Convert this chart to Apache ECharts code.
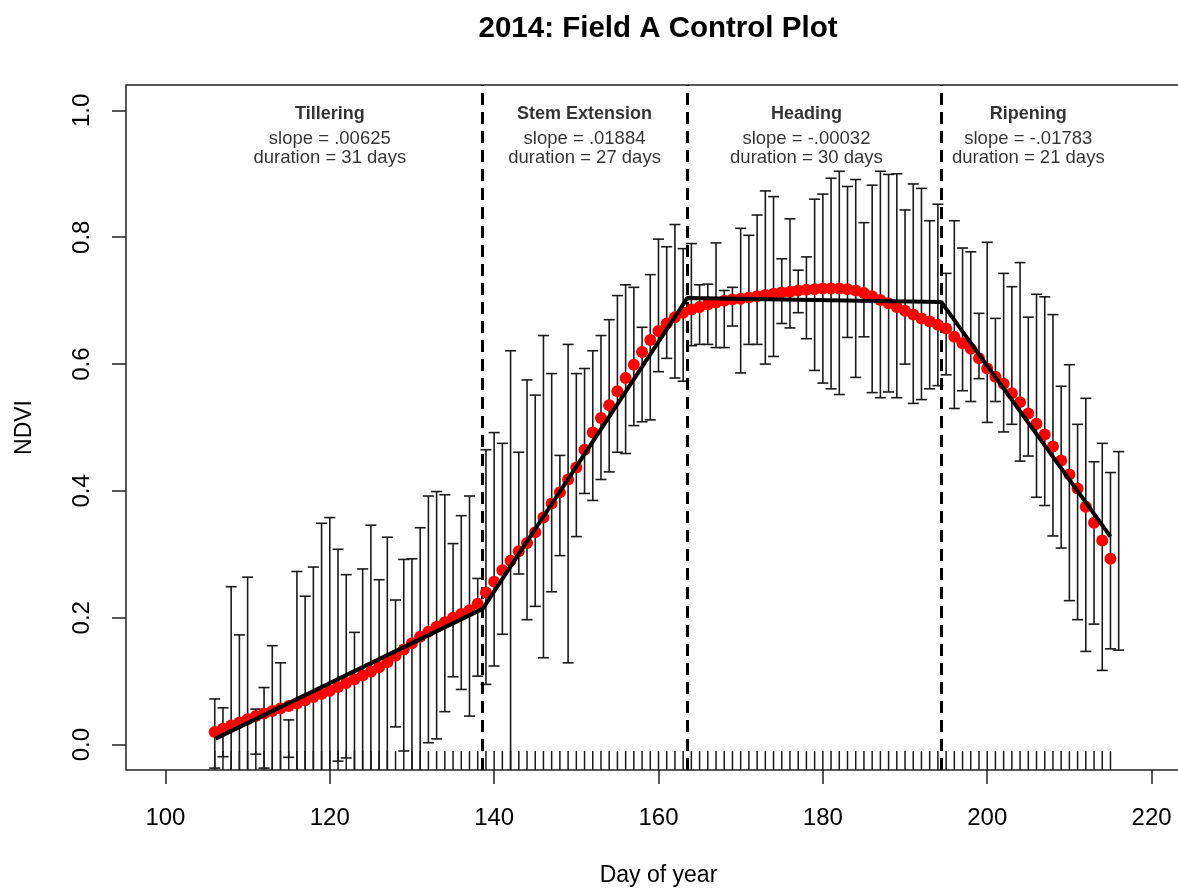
<!DOCTYPE html>
<html>
<head>
<meta charset="utf-8">
<script src="https://cdn.jsdelivr.net/npm/echarts@6/dist/echarts.min.js"></script>
<style>
html,body{margin:0;padding:0;background:#fff;overflow:hidden;width:1178px;height:888px;}
#chart{width:1200px;height:888px;}
</style>
</head>
<body>
<div id="chart"></div>
<script>
// ---------------- DATA ----------------
const titleText = "2014: Field A Control Plot";
const xLabel = "Day of year";
const yLabel = "NDVI";
const xTicks = [100, 120, 140, 160, 180, 200, 220];
const yTicks = [0, 0.2, 0.4, 0.6, 0.8, 1.0];

// smoothed NDVI (red points), one per day
const days = [106,107,108,109,110,111,112,113,114,115,116,117,118,119,120,121,122,123,124,125,126,127,128,129,130,
  131,132,133,134,135,136,137,138,139,140,141,142,143,144,145,146,147,148,149,150,151,152,153,154,155,
  156,157,158,159,160,161,162,163,164,165,166,167,168,169,170,171,172,173,174,175,176,177,178,179,180,
  181,182,183,184,185,186,187,188,189,190,191,192,193,194,195,196,197,198,199,200,201,202,203,204,205,
  206,207,208,209,210,211,212,213,214,215];
const ndvi = [0.020,0.025,0.030,0.035,0.040,0.045,0.049,0.053,0.057,0.061,0.065,0.070,0.075,0.080,0.085,0.091,0.097,0.103,0.109,0.115,0.122,0.130,0.140,0.150,0.160,
  0.170,0.178,0.186,0.193,0.200,0.206,0.212,0.222,0.240,0.257,0.275,0.290,0.305,0.318,0.335,0.358,0.380,0.398,0.418,0.437,0.465,0.492,0.515,0.535,0.557,
  0.578,0.599,0.619,0.638,0.652,0.664,0.674,0.681,0.686,0.690,0.694,0.697,0.700,0.702,0.703,0.705,0.707,0.709,0.711,0.713,0.714,0.716,0.717,0.718,0.719,
  0.719,0.719,0.718,0.716,0.712,0.707,0.701,0.696,0.690,0.684,0.678,0.672,0.667,0.662,0.656,0.643,0.633,0.624,0.609,0.593,0.580,0.569,0.554,0.540,0.522,
  0.506,0.489,0.470,0.448,0.426,0.404,0.375,0.350,0.322,0.293];

// error bars (upper / lower ends), one per day
const errDays = [106,107,108,109,110,111,112,113,114,115,116,117,118,119,120,121,122,123,124,125,126,127,128,129,130,
  131,132,133,134,135,136,137,138,139,140,141,142,143,144,145,146,147,148,149,150,151,152,153,154,155,
  156,157,158,159,160,161,162,163,164,165,166,167,168,169,170,171,172,173,174,175,176,177,178,179,180,
  181,182,183,184,185,186,187,188,189,190,191,192,193,194,195,196,197,198,199,200,201,202,203,204,205,
  206,207,208,209,210,211,212,213,214,215,216];
const errHigh = [0.072,0.058,0.249,0.173,0.264,0.056,0.090,0.156,0.129,0.039,0.273,0.234,0.280,0.349,0.358,0.308,0.268,0.177,0.277,0.346,0.260,0.327,0.228,0.292,0.293,
  0.342,0.392,0.399,0.394,0.317,0.361,0.392,0.262,0.465,0.492,0.475,0.621,0.461,0.575,0.551,0.645,0.585,0.456,0.631,0.585,0.593,0.621,0.645,0.670,0.708,
  0.725,0.721,0.658,0.741,0.797,0.785,0.820,0.782,0.790,0.725,0.726,0.791,0.716,0.721,0.814,0.803,0.835,0.873,0.864,0.766,0.829,0.748,0.769,0.860,0.868,
  0.893,0.904,0.880,0.891,0.823,0.882,0.904,0.899,0.900,0.843,0.884,0.877,0.826,0.852,0.743,0.826,0.783,0.777,0.680,0.792,0.672,0.743,0.722,0.760,0.674,
  0.710,0.706,0.678,0.565,0.599,0.505,0.546,0.446,0.475,0.429,0.462];
const errLow = [-0.037,-0.019,-0.06,-0.06,-0.06,-0.015,-0.037,-0.06,-0.06,-0.020,-0.06,-0.06,-0.06,-0.06,-0.06,-0.026,-0.021,-0.06,-0.06,-0.06,-0.06,-0.06,0.028,-0.010,-0.06,
  -0.06,0.003,0.009,0.052,0.107,0.087,0.045,0.108,0.095,0.124,0.174,-0.06,0.269,0.197,0.218,0.137,0.241,0.298,0.129,0.328,0.396,0.385,0.418,0.430,0.461,
  0.459,0.503,0.509,0.512,0.588,0.609,0.578,0.573,0.629,0.631,0.631,0.626,0.626,0.660,0.586,0.631,0.631,0.600,0.612,0.664,0.657,0.681,0.640,0.590,0.570,
  0.561,0.552,0.642,0.579,0.643,0.555,0.547,0.556,0.547,0.600,0.538,0.544,0.561,0.566,0.583,0.530,0.558,0.541,0.577,0.508,0.541,0.493,0.505,0.447,0.455,
  0.390,0.377,0.329,0.310,0.227,0.197,0.147,0.190,0.117,0.151,0.149];

// piecewise linear fit (black line) breakpoints
const fitDays = [106.1, 138.6, 163.5, 194.4, 215];
const fitNdvi = [0.0095, 0.214, 0.704, 0.698, 0.328];

// phase boundaries (dashed lines)
const breaks = [138.6, 163.5, 194.4];

// phase annotations
const phaseNames = ["Tillering", "Stem Extension", "Heading", "Ripening"];
const phaseSlopes = [".00625", ".01884", "-.00032", "-.01783"];
const phaseDurations = [31, 27, 30, 21];
const phaseX = [120, 151, 178, 205];
const phaseNameY = 0.994;
const phaseStatY = 0.94;

// ---------------- CHART ----------------
const FONT = "'Liberation Sans', Arial, sans-serif";
const chart = echarts.init(document.getElementById('chart'), null, {renderer: 'canvas'});

function renderErr(params, api) {
  const x = api.value(0), hi = api.value(1), lo = api.value(2);
  const t = api.coord([x, hi]);
  const b = api.coord([x, lo]);
  const cs = params.coordSys;
  const yMax = cs.y + cs.height;
  const by = Math.min(b[1], yMax);
  const hw = 5.5;
  const st = {stroke: '#1a1a1a', lineWidth: 1.6};
  const children = [
    {type: 'line', shape: {x1: t[0], y1: t[1], x2: t[0], y2: by}, style: st},
    {type: 'line', shape: {x1: t[0] - hw, y1: t[1], x2: t[0] + hw, y2: t[1]}, style: st}
  ];
  if (b[1] <= yMax) children.push({type: 'line', shape: {x1: b[0] - hw, y1: b[1], x2: b[0] + hw, y2: b[1]}, style: st});
  return {type: 'group', children};
}

function renderRug(params, api) {
  const x = api.value(0);
  const p = api.coord([x, 0]);
  const cs = params.coordSys;
  const yMax = cs.y + cs.height;
  return {type: 'line', shape: {x1: p[0], y1: yMax, x2: p[0], y2: yMax - 19}, style: {stroke: '#1a1a1a', lineWidth: 1.5}};
}

const option = {
  animation: false,
  backgroundColor: '#fff',
  grid: {left: 126, top: 85, right: 9, bottom: 118, show: true, borderColor: '#222', borderWidth: 1.5, backgroundColor: 'transparent', containLabel: false, outerBoundsMode: 'none'},
  graphic: [{
    type: 'text', x: 658, y: 29,
    style: {text: titleText, font: "bold 29.5px " + FONT, fill: '#000', textAlign: 'center', textVerticalAlign: 'middle'}
  }],
  xAxis: {
    type: 'value', min: 95.2, max: 224.8,
    name: xLabel, nameLocation: 'middle', nameGap: 94,
    nameTextStyle: {fontFamily: FONT, fontSize: 23, color: '#000'},
    axisLine: {show: false, onZero: false},
    splitLine: {show: false},
    axisTick: {show: true, inside: false, length: 14, lineStyle: {color: '#222', width: 1.5}, customValues: xTicks},
    axisLabel: {show: true, margin: 36, fontFamily: FONT, fontSize: 24, color: '#000', customValues: xTicks, formatter: v => String(v)}
  },
  yAxis: {
    type: 'value', min: -0.04, max: 1.04,
    name: yLabel, nameLocation: 'middle', nameGap: 90, nameRotate: 90,
    nameTextStyle: {fontFamily: FONT, fontSize: 23, color: '#000'},
    axisLine: {show: false, onZero: false},
    splitLine: {show: false},
    axisTick: {show: true, inside: false, length: 14, lineStyle: {color: '#222', width: 1.5}, customValues: yTicks},
    axisLabel: {show: true, rotate: 90, margin: 32, fontFamily: FONT, fontSize: 24, color: '#000', customValues: yTicks, formatter: v => v.toFixed(1)}
  },
  series: [
    {
      type: 'custom', name: 'rug', renderItem: renderRug, z: 2, silent: true,
      data: days.map(d => [d])
    },
    {
      type: 'custom', name: 'err', renderItem: renderErr, z: 3, silent: true,
      data: errDays.map((d, i) => [d, errHigh[i], errLow[i]])
    },
    {
      type: 'line', name: 'breaks', data: [], z: 4, silent: true,
      markLine: {
        silent: true, symbol: ['none', 'none'], label: {show: false},
        lineStyle: {color: '#000', width: 3, type: [12, 7]},
        data: breaks.map(b => ({xAxis: b}))
      }
    },
    {
      type: 'scatter', name: 'ndvi', z: 5, symbol: 'circle', symbolSize: 12, silent: true,
      itemStyle: {color: '#ff0000', opacity: 1},
      data: days.map((d, i) => [d, ndvi[i]])
    },
    {
      type: 'line', name: 'fit', z: 6, symbol: 'none', silent: true,
      lineStyle: {color: '#000', width: 4},
      data: fitDays.map((d, i) => [d, fitNdvi[i]])
    },
    {
      type: 'scatter', name: 'phaseNames', z: 7, symbolSize: 0, silent: true,
      label: {show: true, position: 'inside', fontFamily: FONT, fontWeight: 'bold', fontSize: 18, color: '#000',
        formatter: p => phaseNames[p.dataIndex]},
      data: phaseX.map(x => [x, phaseNameY])
    },
    {
      type: 'scatter', name: 'phaseStats', z: 7, symbolSize: 0, silent: true,
      label: {show: true, position: 'inside', fontFamily: FONT, fontSize: 18.5, lineHeight: 19, color: '#000', align: 'center',
        formatter: p => 'slope = ' + phaseSlopes[p.dataIndex] + '\nduration = ' + phaseDurations[p.dataIndex] + ' days'},
      data: phaseX.map(x => [x, phaseStatY])
    }
  ]
};
chart.setOption(option);
</script>
</body>
</html>
